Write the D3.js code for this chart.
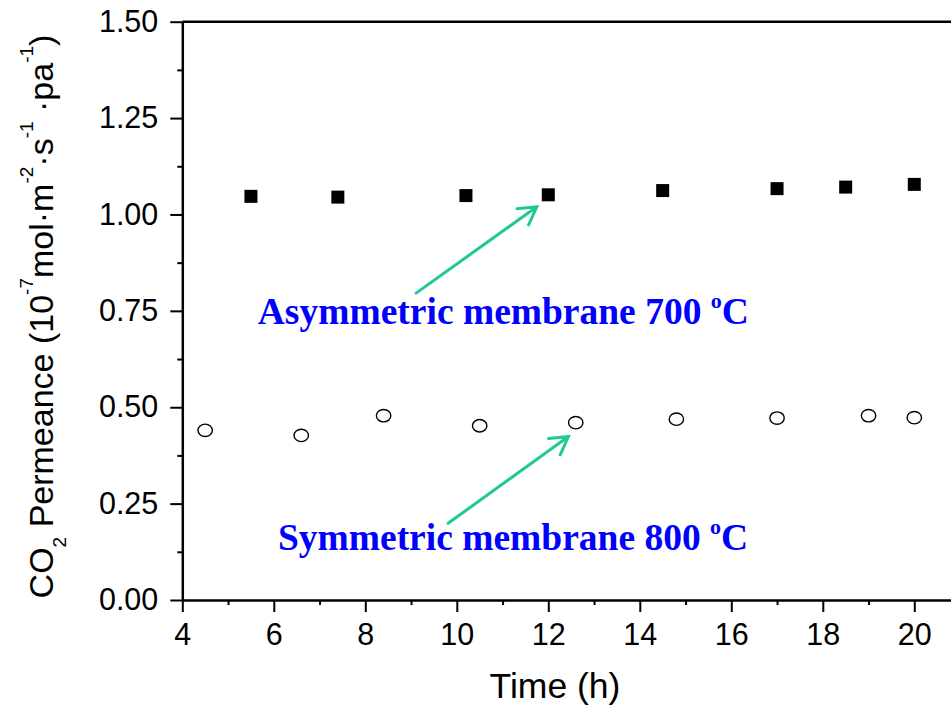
<!DOCTYPE html>
<html>
<head>
<meta charset="utf-8">
<script src="https://cdn.jsdelivr.net/npm/d3@7"></script>
<style>
  body { margin: 0; background: #fff; }
  svg { display: block; }
</style>
</head>
<body>
<svg id="chart" width="951" height="707"></svg>
<script>
// CO2 permeance over time for the two membranes
const asymTime = [5.5, 7.4, 10.2, 12.0, 14.5, 17.0, 18.5, 20.0];
const asymPerm = [1.047, 1.045, 1.049, 1.051, 1.062, 1.067, 1.071, 1.078];
const symTime  = [4.5, 6.6, 8.4, 10.5, 12.6, 14.8, 17.0, 19.0, 20.0];
const symPerm  = [0.440, 0.427, 0.478, 0.452, 0.460, 0.469, 0.472, 0.478, 0.473];

const xTicks = [4, 6, 8, 10, 12, 14, 16, 18, 20];
const xMinorTicks = [5, 7, 9, 11, 13, 15, 17, 19];
const yTicks = [0, 0.25, 0.5, 0.75, 1.0, 1.25, 1.5];
const yMinorTicks = [0.125, 0.375, 0.625, 0.875, 1.125, 1.375];

// Annotation labels and arrows, in data units
const noteLabels = [
  { text: "Asymmetric membrane 700 ", x: 5.65, y: 0.716 },
  { text: "Symmetric membrane 800 ",  x: 6.09, y: 0.130 }
];
const noteArrows = [
  { x0: 9.11, y0: 0.796, x1: 11.75, y1: 1.020 },
  { x0: 9.81, y0: 0.199, x1: 12.44, y1: 0.424 }
];

const svg = d3.select("#chart");
const x = d3.scaleLinear().domain([4, 21]).range([182.3, 960.05]);
const y = d3.scaleLinear().domain([0, 1.5]).range([600, 21.7]);

const sans = "'Liberation Sans', Arial, sans-serif";
const serif = "'Liberation Serif', 'Times New Roman', serif";

// top frame line
svg.append("line")
  .attr("x1", x(4)).attr("x2", x(21))
  .attr("y1", y(1.5)).attr("y2", y(1.5))
  .attr("stroke", "#000").attr("stroke-width", 2.5);

// x axis: minor then major
svg.append("g")
  .attr("transform", `translate(0,${y(0)})`)
  .call(d3.axisBottom(x).tickValues(xMinorTicks).tickSize(5).tickFormat(""))
  .call(g => g.select(".domain").remove())
  .call(g => g.selectAll("line").attr("stroke-width", 2));

const xAxis = svg.append("g")
  .attr("transform", `translate(0,${y(0)})`)
  .call(d3.axisBottom(x).tickValues(xTicks).tickSize(12).tickSizeOuter(0)
        .tickPadding(11).tickFormat(d3.format("d")));
xAxis.select(".domain").attr("stroke-width", 2.5);
xAxis.selectAll("line").attr("stroke-width", 2);
xAxis.selectAll("text").attr("font-family", sans).attr("font-size", 30.5).attr("fill", "#000");

// y axis: minor then major
svg.append("g")
  .attr("transform", `translate(${x(4)},0)`)
  .call(d3.axisLeft(y).tickValues(yMinorTicks).tickSize(5).tickFormat(""))
  .call(g => g.select(".domain").remove())
  .call(g => g.selectAll("line").attr("stroke-width", 2));

const yAxis = svg.append("g")
  .attr("transform", `translate(${x(4)},0)`)
  .call(d3.axisLeft(y).tickValues(yTicks).tickSize(12).tickSizeOuter(0)
        .tickPadding(12).tickFormat(d3.format(".2f")));
yAxis.select(".domain").attr("stroke-width", 2.5);
yAxis.selectAll("line").attr("stroke-width", 2);
yAxis.selectAll("text").attr("font-family", sans).attr("font-size", 30.5).attr("fill", "#000");

// axis titles
svg.append("text")
  .attr("x", 555).attr("y", 698)
  .attr("text-anchor", "middle")
  .attr("font-family", sans).attr("font-size", 35.5)
  .text("Time (h)");

const yTitle = svg.append("text")
  .attr("transform", "translate(53,316.5) rotate(-90)")
  .attr("text-anchor", "middle")
  .attr("font-family", sans).attr("font-size", 34);
const parts = [
  ["CO", 0], ["2", 1], [" Permeance (10", 0], ["-7", -1], ["mol·m", 0], ["-2", -1],
  ["·s", 0], ["-1", -1], [" ·pa", 0], ["-1", -1], [")", 0]
];
let shift = 0;
parts.forEach(([t, s]) => {
  const target = s === 1 ? 13 : s === -1 ? -20 : 0;
  yTitle.append("tspan")
    .attr("dy", target - shift)
    .attr("font-size", s === 0 ? 34 : 19)
    .text(t);
  shift = target;
});

// asymmetric membrane: filled squares
svg.append("g").selectAll("path")
  .data(asymTime.map((t, i) => [t, asymPerm[i]]))
  .join("path")
  .attr("d", d3.symbol(d3.symbolSquare, 169))
  .attr("transform", d => `translate(${x(d[0])},${y(d[1])})`)
  .attr("fill", "#000");

// symmetric membrane: open circles
svg.append("g").selectAll("ellipse")
  .data(symTime.map((t, i) => [t, symPerm[i]]))
  .join("ellipse")
  .attr("cx", d => x(d[0])).attr("cy", d => y(d[1]))
  .attr("rx", 7.2).attr("ry", 6.2)
  .attr("fill", "none").attr("stroke", "#000").attr("stroke-width", 1.4);

// annotation arrows
const arrowColor = "#20c994";
noteArrows.forEach(a => {
  const px0 = x(a.x0), py0 = y(a.y0), px1 = x(a.x1), py1 = y(a.y1);
  const ang = Math.atan2(py0 - py1, px0 - px1);
  const len = 20, spread = Math.PI / 6;
  const h1 = [px1 + len * Math.cos(ang + spread), py1 + len * Math.sin(ang + spread)];
  const h2 = [px1 + len * Math.cos(ang - spread), py1 + len * Math.sin(ang - spread)];
  svg.append("path")
    .attr("d", `M${px0},${py0}L${px1},${py1}M${h1[0]},${h1[1]}L${px1},${py1}L${h2[0]},${h2[1]}`)
    .attr("fill", "none").attr("stroke", arrowColor)
    .attr("stroke-width", 3).attr("stroke-linecap", "round").attr("stroke-linejoin", "miter");
});

// annotation labels
noteLabels.forEach(n => {
  const t = svg.append("text")
    .attr("x", x(n.x)).attr("y", y(n.y))
    .attr("font-family", serif).attr("font-weight", "bold")
    .attr("font-size", 37.5).attr("fill", "#0000ff");
  t.append("tspan").text(n.text);
  t.append("tspan").attr("dy", -16).attr("font-size", 22).text("o");
  t.append("tspan").attr("dy", 16).text("C");
});
</script>
</body>
</html>
